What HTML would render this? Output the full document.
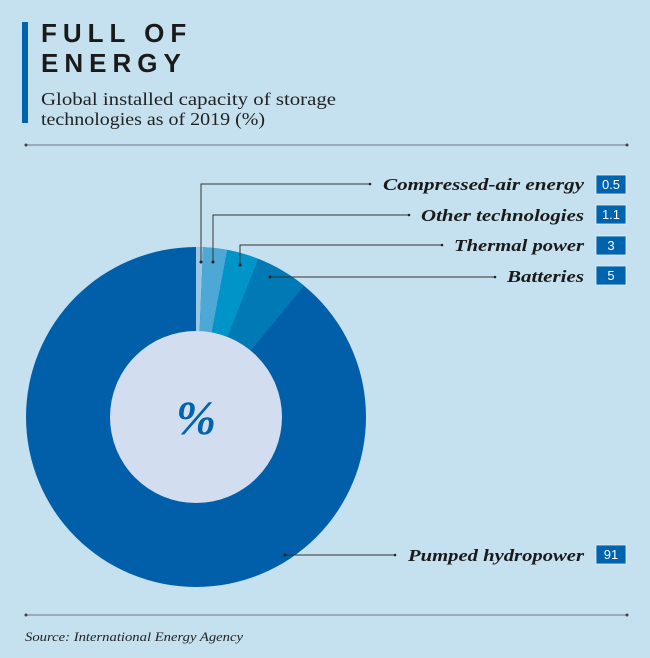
<!DOCTYPE html>
<html><head><style>
body{margin:0;background:#c5e0ef;}
svg{display:block}
</style></head><body>
<svg width="650" height="658" viewBox="0 0 650 658" xmlns="http://www.w3.org/2000/svg">
<rect width="650" height="658" fill="#c5e0ef"/>
<rect x="22" y="22" width="6" height="101" fill="#0063ad"/>
<g font-family="Liberation Sans, sans-serif" font-weight="bold" font-size="26" letter-spacing="6" fill="#1a1a1a">
<text x="41" y="42">FULL OF</text>
<text x="41" y="72">ENERGY</text>
</g>
<g font-family="Liberation Serif, serif" font-size="18" fill="#222">
<text x="41" y="105" textLength="295" lengthAdjust="spacingAndGlyphs">Global installed capacity of storage</text>
<text x="41" y="125" textLength="224" lengthAdjust="spacingAndGlyphs">technologies as of 2019 (%)</text>
</g>
<g stroke="#8a9aa8" stroke-width="1.5"><line x1="25" y1="145" x2="628" y2="145"/><line x1="25" y1="615" x2="628" y2="615"/></g>
<g fill="#444"><circle cx="26" cy="145" r="1.5"/><circle cx="627" cy="145" r="1.5"/><circle cx="26" cy="615" r="1.5"/><circle cx="627" cy="615" r="1.5"/></g>
<text x="25" y="641" font-family="Liberation Serif, serif" font-style="italic" font-size="13" fill="#222" textLength="218" lengthAdjust="spacingAndGlyphs">Source: International Energy Agency</text>

<g transform="translate(196,417)">
<circle r="170" fill="#005fa8"/>
<path d="M0,0 L0,-170 A170,170 0 0 1 7.1,-169.85 Z" fill="#9cc8e3"/>
<path d="M0,0 L7.1,-169.85 A170,170 0 0 1 31.3,-167.1 Z" fill="#4ea8d5"/>
<path d="M0,0 L31.3,-167.1 A170,170 0 0 1 62.4,-158.1 Z" fill="#0094c8"/>
<path d="M0,0 L62.4,-158.1 A170,170 0 0 1 108.1,-131.2 Z" fill="#0079b4"/>
<circle r="86" fill="#d2ddf0"/>
<text x="0" y="17" text-anchor="middle" font-family="Liberation Serif, serif" font-style="italic" font-weight="bold" font-size="48" fill="#0063ad">%</text>
</g>

<g stroke="#333" stroke-width="1" fill="none">
<polyline points="201,262 201,184 370,184"/>
<polyline points="213,262 213,215 409,215"/>
<polyline points="240,265 240,245 442,245"/>
<polyline points="270,277 495,277"/>
<polyline points="285,555 395,555"/>
</g>
<g fill="#222"><circle cx="201" cy="262" r="1.5"/><circle cx="213" cy="262" r="1.5"/><circle cx="240" cy="265" r="1.5"/><circle cx="270" cy="277" r="1.5"/><circle cx="285" cy="555" r="1.5"/>
<circle cx="370" cy="184" r="1.3"/><circle cx="409" cy="215" r="1.3"/><circle cx="442" cy="245" r="1.3"/><circle cx="495" cy="277" r="1.3"/><circle cx="395" cy="555" r="1.3"/></g>
<g font-family="Liberation Serif, serif" font-style="italic" font-weight="bold" font-size="17" fill="#1a1a1a" lengthAdjust="spacingAndGlyphs">
<text x="383" y="190" textLength="201" lengthAdjust="spacingAndGlyphs">Compressed-air energy</text>
<text x="421" y="221" textLength="163" lengthAdjust="spacingAndGlyphs">Other technologies</text>
<text x="454" y="251" textLength="130" lengthAdjust="spacingAndGlyphs">Thermal power</text>
<text x="507" y="282" textLength="77" lengthAdjust="spacingAndGlyphs">Batteries</text>
<text x="408" y="561" textLength="176" lengthAdjust="spacingAndGlyphs">Pumped hydropower</text>
</g>
<g fill="#0063ad" stroke="#e6f0f8" stroke-width="0.8">
<rect x="596" y="175" width="30" height="19"/><rect x="596" y="205" width="30" height="19"/><rect x="596" y="236" width="30" height="19"/><rect x="596" y="266" width="30" height="19"/><rect x="596" y="545" width="30" height="19"/>
</g>
<g font-family="Liberation Sans, sans-serif" font-size="13" fill="#fff" text-anchor="middle">
<text x="611" y="189">0.5</text><text x="611" y="219">1.1</text><text x="611" y="250">3</text><text x="611" y="280">5</text><text x="611" y="559">91</text>
</g>
</svg>
</body></html>
